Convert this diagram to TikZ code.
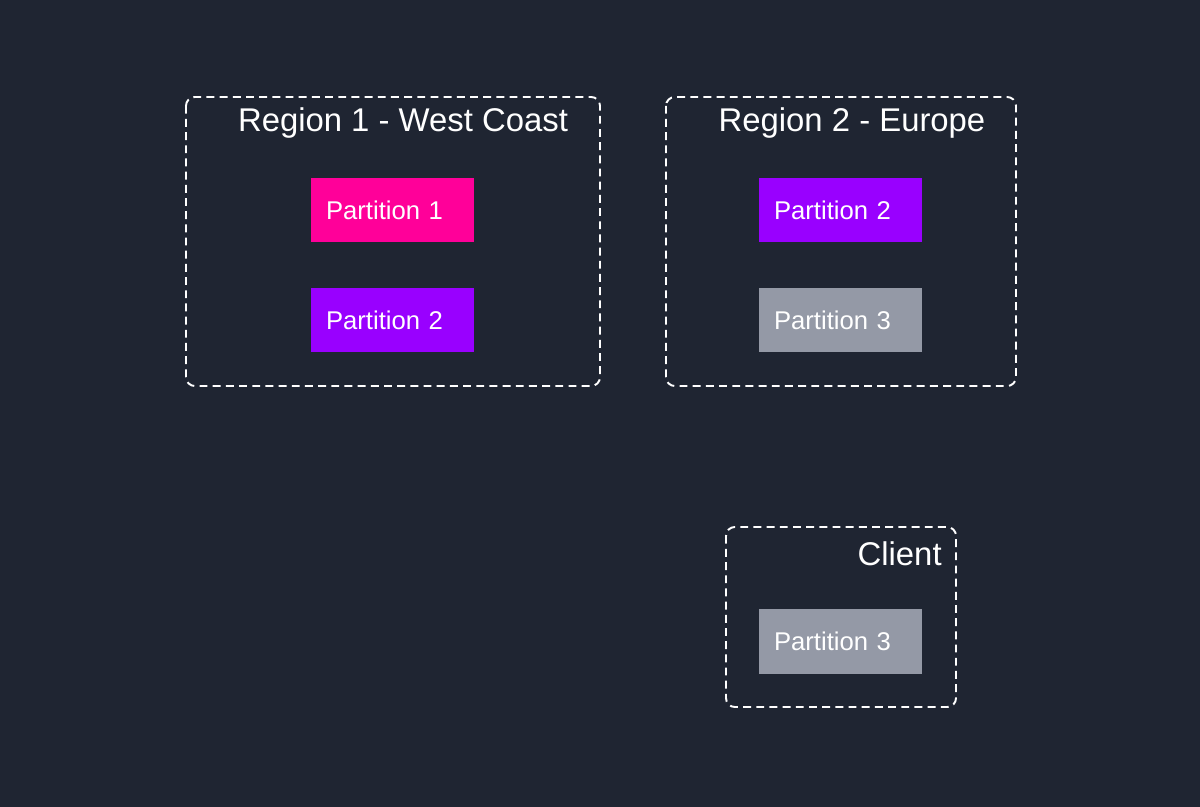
\documentclass[tikz,border=0pt]{standalone}
\usepackage{fontspec}
\setmainfont{Liberation Sans}
\definecolor{bgdark}{HTML}{1F2532}
\definecolor{pinkpart}{HTML}{FF0099}
\definecolor{purplepart}{HTML}{9900FF}
\definecolor{graypart}{HTML}{9499A6}
\begin{document}
\begin{tikzpicture}[x=0.02cm,y=-0.02cm,
    regionbox/.style={draw=white,line width=1.1pt,dash pattern=on 4.5pt off 3pt,rounded corners=5pt},
    partbox/.style={inner sep=0pt,minimum width=3.26cm,minimum height=1.3cm,text=white,font=\fontsize{14.6}{16}\selectfont,text width=2.66cm,align=left},
    title/.style={text=white,font=\fontsize{18.7}{20}\selectfont,inner sep=0pt}]

    \fill[bgdark] (0,0) rectangle (1200,807);

    % regions
    \draw[regionbox] (186,97) rectangle (600,386);
    \node[title] (r1) at (403,123) {Region 1 - West Coast};
    \draw[regionbox] (666,97) rectangle (1016,386);
    \node[title] (r2) at (852,123) {Region 2 - Europe};
    \draw[regionbox] (726,527) rectangle (956,707);
    \node[title,anchor=east] (cl) at (942,554) {Client};

    % partitions
    \node[partbox,fill=pinkpart] (p1a) at (392.5,210) {Partition 1};
    \node[partbox,fill=purplepart] (p2a) at (392.5,320) {Partition 2};
    \node[partbox,fill=purplepart] (p2b) at (840.5,210) {Partition 2};
    \node[partbox,fill=graypart] (p3b) at (840.5,320) {Partition 3};
    \node[partbox,fill=graypart] (p3c) at (840.5,641.5) {Partition 3};

\end{tikzpicture}
\end{document}
